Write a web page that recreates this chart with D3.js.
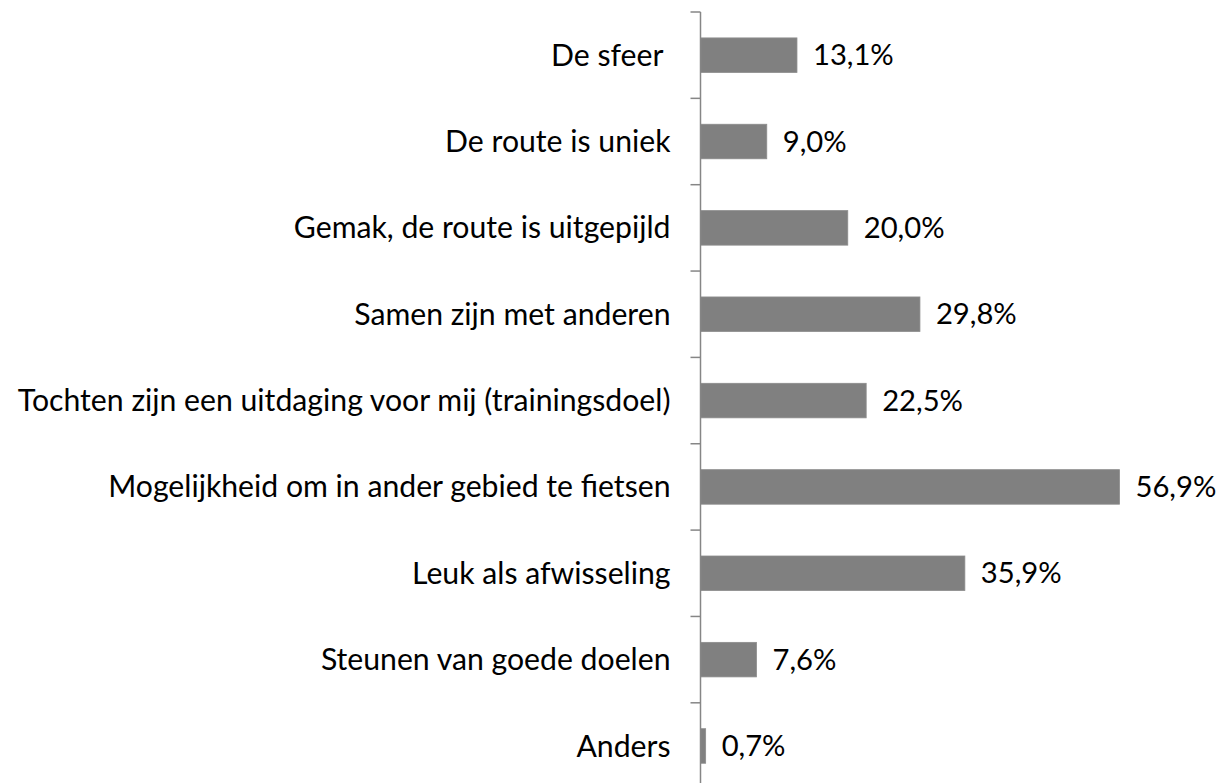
<!DOCTYPE html>
<html>
<head>
<meta charset="utf-8">
<script src="https://cdn.jsdelivr.net/npm/d3@7"></script>
<style>
  body { margin: 0; background: #fff; }
  svg text { font-family: Lato, "Open Sans", sans-serif; fill: #000; white-space: pre; }
</style>
</head>
<body>
<svg id="chart"></svg>
<script>
var categories = [
  "De sfeer ",
  "De route is uniek",
  "Gemak, de route is uitgepijld",
  "Samen zijn met anderen",
  "Tochten zijn een uitdaging voor mij (trainingsdoel)",
  "Mogelijkheid om in ander gebied te fietsen",
  "Leuk als afwisseling",
  "Steunen van goede doelen",
  "Anders"
];
var values = [13.1, 9.0, 20.0, 29.8, 22.5, 56.9, 35.9, 7.6, 0.7];
var valueLabels = ["13,1%", "9,0%", "20,0%", "29,8%", "22,5%", "56,9%", "35,9%", "7,6%", "0,7%"];

var width = 1223, height = 783;
var margin = { top: 12, left: 700.5 };
var band = 86.35;

var svg = d3.select("#chart").attr("width", width).attr("height", height);

var yscale = d3.scaleBand()
  .domain(categories)
  .range([margin.top, margin.top + band * categories.length])
  .paddingInner(0.6)
  .paddingOuter(0.3);

var xscale = d3.scaleLinear().domain([0, 56.9]).range([margin.left, 1119.5]);

// bars
svg.selectAll(".bar")
  .data(values)
  .enter()
  .append("rect")
  .attr("class", "bar")
  .attr("x", xscale(0))
  .attr("y", function (d, i) { return yscale(categories[i]); })
  .attr("width", function (d) { return xscale(d) - xscale(0); })
  .attr("height", yscale.bandwidth())
  .attr("fill", "#808080")
  .attr("stroke", "#8c8c8c")
  .attr("stroke-width", 0.8);

// axis line + ticks between categories
var axisG = svg.append("g");
axisG.append("line")
  .attr("x1", margin.left).attr("x2", margin.left)
  .attr("y1", margin.top).attr("y2", height)
  .attr("stroke", "#868686").attr("stroke-width", 1.5);
var tickPos = d3.range(categories.length + 1).map(function (i) { return margin.top + i * band; });
axisG.selectAll(".tick")
  .data(tickPos)
  .enter()
  .append("line")
  .attr("x1", margin.left - 10).attr("x2", margin.left)
  .attr("y1", function (d) { return d; }).attr("y2", function (d) { return d; })
  .attr("stroke", "#868686").attr("stroke-width", 1.5);

// category labels
svg.selectAll(".cat")
  .data(categories)
  .enter()
  .append("text")
  .attr("class", "cat")
  .attr("x", margin.left - 30)
  .attr("y", function (d) { return yscale(d) + yscale.bandwidth() / 2; })
  .attr("dy", "0.35em")
  .attr("text-anchor", "end")
  .style("font-size", "30.2px")
  .text(function (d) { return d; });

// value labels
svg.selectAll(".val")
  .data(values)
  .enter()
  .append("text")
  .attr("class", "val")
  .attr("x", function (d) { return xscale(d) + 16; })
  .attr("y", function (d, i) { return yscale(categories[i]) + yscale.bandwidth() / 2; })
  .attr("dy", "0.35em")
  .style("font-size", "29.2px")
  .text(function (d, i) { return valueLabels[i]; });
</script>
</body>
</html>
